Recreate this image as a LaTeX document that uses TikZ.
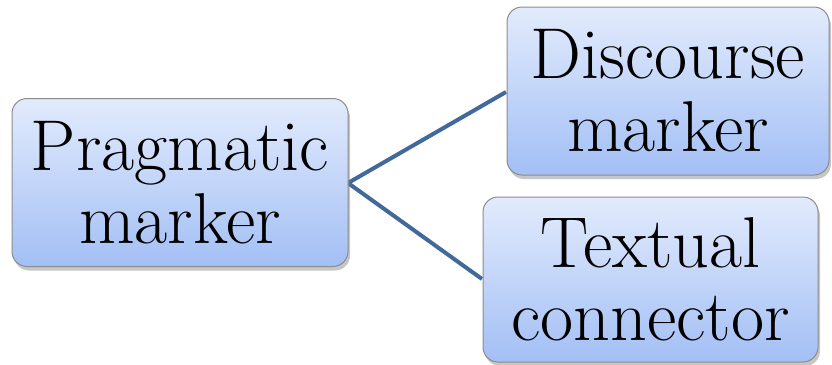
\documentclass[tikz,border=0pt]{standalone}
\usepackage{fontspec}
\usetikzlibrary{shadows}

\definecolor{lineablu}{HTML}{41699B}
\definecolor{boxalto}{HTML}{E2EBFC}
\definecolor{boxbasso}{HTML}{A3BFF5}
\definecolor{bordo}{HTML}{8C8C8C}

\tikzset{
  scatola/.style={draw=bordo, line width=1pt, rounded corners=15pt,
    top color=boxalto, bottom color=boxbasso,
    drop shadow={shadow xshift=2pt, shadow yshift=-4pt, opacity=0.45},
    align=center, inner sep=0pt, font=\rmfamily\fontsize{72}{73}\selectfont},
  ramo/.style={lineablu, line width=4pt}
}

\begin{document}
\begin{tikzpicture}[x=1pt,y=-1pt]
    \useasboundingbox (0,0) rectangle (832,364);

    % rami
    \coordinate (pe) at (348,183);
    \draw[ramo] (pe) -- (506,92) coordinate (de);
    \draw[ramo] (pe) -- (482,279) coordinate (te);

    % scatole
    \node[scatola, minimum width=336pt, minimum height=168pt] (prag) at (180,182.5) {Pragmatic\\marker};
    \node[scatola, minimum width=322pt, minimum height=168pt] (disc) at (668,91) {Discourse\\marker};
    \node[scatola, minimum width=335pt, minimum height=165pt] (text) at (650.5,279.5) {Textual\\connector};
\end{tikzpicture}
\end{document}
